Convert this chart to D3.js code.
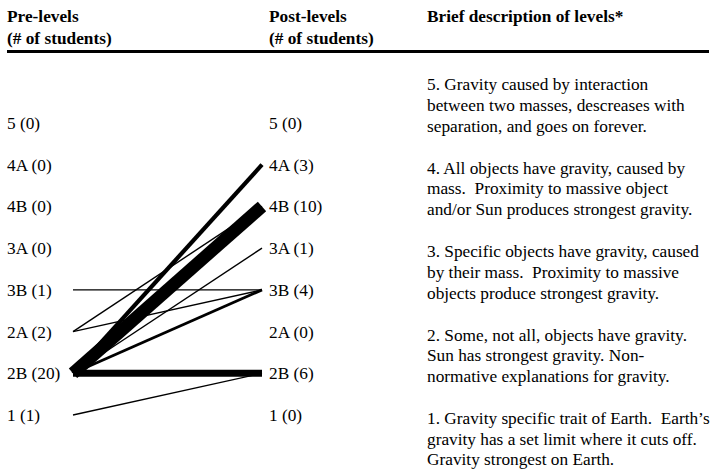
<!DOCTYPE html>
<html>
<head>
<meta charset="utf-8">
<script src="https://cdn.jsdelivr.net/npm/d3@7"></script>
<style>
  html, body { margin: 0; padding: 0; background: #fff; }
</style>
</head>
<body>
<svg id="plot"></svg>
<script>
// Levels, top to bottom
const levels = ["5", "4A", "4B", "3A", "3B", "2A", "2B", "1"];
const preCounts = [0, 0, 0, 0, 1, 2, 20, 1];
const postCounts = [0, 3, 10, 1, 4, 0, 6, 0];

// Student transitions pre -> post
const flowFrom = ["2B", "2B", "2B", "2B", "2B", "3B", "2A", "2A", "1"];
const flowTo = ["4B", "2B", "4A", "3B", "3A", "3B", "4B", "3B", "2B"];
const flowStudents = [9, 5, 3, 2, 1, 1, 1, 1, 1];

// Column headers
const headerPre = ["Pre-levels", "(# of students)"];
const headerPost = ["Post-levels", "(# of students)"];
const headerDesc = ["Brief description of levels*"];

// Level descriptions, with the row each block starts at ("" = row above level 5)
const descAnchor = ["", "4A", "3A", "2A", "1"];
const descLines = [
  ["5. Gravity caused by interaction", "between two masses, descreases with", "separation, and goes on forever."],
  ["4. All objects have gravity, caused by", "mass.  Proximity to massive object", "and/or Sun produces strongest gravity."],
  ["3. Specific objects have gravity, caused", "by their mass.  Proximity to massive", "objects produce strongest gravity."],
  ["2. Some, not all, objects have gravity.", "Sun has strongest gravity. Non-", "normative explanations for gravity."],
  ["1. Gravity specific trait of Earth.  Earth\u2019s", "gravity has a set limit where it cuts off.", "Gravity strongest on Earth."]
];

const width = 713;
const height = 472;
const fontSize = 17.3;
const lineH = 20.7;

const svg = d3.select("#plot")
    .attr("width", width)
    .attr("height", height)
    .attr("viewBox", [0, 0, width, height])
    .style("font-family", "'Liberation Serif', 'Times New Roman', serif")
    .style("font-size", fontSize + "px");

// Vertical position of each level row
const y = d3.scalePoint()
    .domain(levels)
    .range([123, 415]);
const rowY = lv => lv === "" ? y(levels[0]) - y.step() : y(lv);

// Horizontal ends of the transition lines
const x = d3.scalePoint()
    .domain(["pre", "post"])
    .range([73, 262]);

const stroke = d3.scaleLinear()
    .domain([0, 9])
    .range([0, 12.6]);

const xPreLabel = 7;
const xPostLabel = 269;
const xDesc = 427;

// Headers
function header(lines, xPos) {
  svg.append("text")
      .attr("x", xPos)
      .attr("font-weight", "bold")
    .selectAll("tspan")
    .data(lines)
    .join("tspan")
      .attr("x", xPos)
      .attr("y", (d, i) => 22 + i * 22)
      .text(d => d);
}
header(headerPre, xPreLabel);
header(headerPost, xPostLabel);
header(headerDesc, xDesc);

svg.append("line")
    .attr("x1", 7)
    .attr("x2", 709)
    .attr("y1", 51.5)
    .attr("y2", 51.5)
    .attr("stroke", "#000")
    .attr("stroke-width", 3);

// Transition lines
const flows = flowFrom.map((f, i) => ({from: f, to: flowTo[i], n: flowStudents[i]}));

svg.append("g")
  .selectAll("line")
  .data(flows)
  .join("line")
    .attr("x1", x("pre"))
    .attr("y1", d => y(d.from))
    .attr("x2", x("post"))
    .attr("y2", d => y(d.to))
    .attr("stroke", "#000")
    .attr("stroke-width", d => stroke(d.n))
    .attr("stroke-linecap", "butt");

// Level labels
svg.append("g")
  .selectAll("text")
  .data(levels)
  .join("text")
    .attr("x", xPreLabel)
    .attr("y", d => y(d))
    .attr("dy", "0.35em")
    .text((d, i) => `${d} (${preCounts[i]})`);

svg.append("g")
  .selectAll("text")
  .data(levels)
  .join("text")
    .attr("x", xPostLabel)
    .attr("y", d => y(d))
    .attr("dy", "0.35em")
    .text((d, i) => `${d} (${postCounts[i]})`);

// Descriptions
const desc = svg.append("g")
  .selectAll("text")
  .data(descLines)
  .join("text")
    .attr("x", xDesc);

desc.selectAll("tspan")
  .data((d, i) => d.map(t => ({t, top: rowY(descAnchor[i]) + 3})))
  .join("tspan")
    .attr("x", xDesc)
    .attr("y", (d, i) => d.top + i * lineH)
    .attr("dy", "0.35em")
    .style("white-space", "pre")
    .text(d => d.t);
</script>
</body>
</html>
